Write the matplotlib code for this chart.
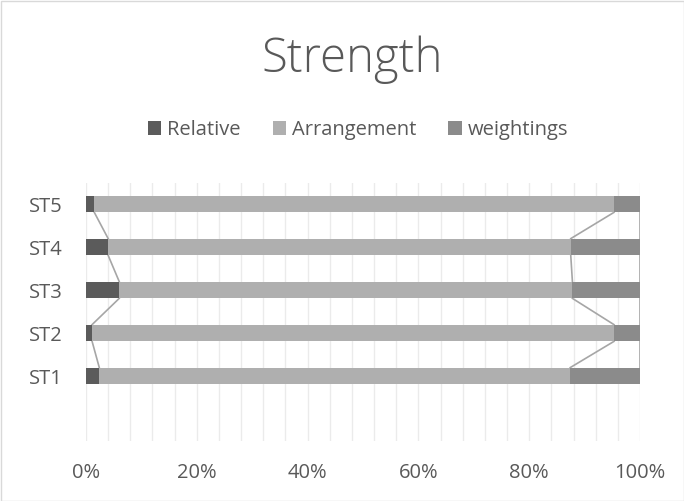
import matplotlib
matplotlib.use("Agg")
import matplotlib.pyplot as plt
from matplotlib.ticker import MultipleLocator

categories = ["ST1", "ST2", "ST3", "ST4", "ST5"]
relative = [2.4, 1.1, 6.0, 4.0, 1.5]
arrangement = [85.0, 94.2, 81.8, 83.5, 93.8]
weightings = [12.6, 4.7, 12.2, 12.5, 4.7]
series_names = ["Relative", "Arrangement", "weightings"]
colors = ["#5b5b5b", "#afafaf", "#8b8b8b"]
xtick_labels = ["0%", "20%", "40%", "60%", "80%", "100%"]

plt.rcParams['font.family'] = ['Open Sans', 'DejaVu Sans']
fig = plt.figure(figsize=(6.84, 5.01), dpi=100)
W, H = 684, 501
ax = fig.add_axes([86 / W, 1 - 440.5 / H, (640 - 86) / W, (440.5 - 182.5) / H])

pos = list(range(len(categories)))
h = 0.39
data = [relative, arrangement, weightings]
left = [0.0] * len(categories)
for vals, name, c in zip(data, series_names, colors):
    ax.barh(pos, vals, left=left, height=h, color=c, label=name, zorder=3)
    left = [l + v for l, v in zip(left, vals)]

# series lines
cum = [0.0] * len(categories)
for vals in data:
    cum = [a + b for a, b in zip(cum, vals)]
    for i in range(len(categories) - 1):
        ax.plot([cum[i], cum[i + 1]], [pos[i] + h / 2, pos[i + 1] - h / 2],
                color="#a6a6a6", lw=1.2, zorder=2)

ax.set_xlim(0, 100)
ax.set_ylim(-1.5, 4.5)
ax.xaxis.set_minor_locator(MultipleLocator(4))
ax.set_xticks([0, 20, 40, 60, 80, 100])
ax.set_xticklabels(xtick_labels)
ax.set_yticks(pos)
ax.set_yticklabels(categories)
ax.grid(axis="x", which="both", color="#ebebeb", lw=1, zorder=0)
ax.tick_params(which="both", length=0, labelsize=14.5, colors="#595959")
ax.tick_params(axis="x", pad=16)
ax.tick_params(axis="y", pad=17)
for s in ax.spines.values():
    s.set_visible(False)

fig.text(352 / W, 1 - 60 / H, "Strength", ha="center", va="center", fontsize=34,
         color="#595959", fontweight="light")
handles, labels = ax.get_legend_handles_labels()
fig.legend(handles, labels, loc="center", bbox_to_anchor=(358 / W, 1 - 130 / H), ncol=3,
           frameon=False, fontsize=14.5, labelcolor="#595959", handlelength=0.65,
           handleheight=0.65, handletextpad=0.3, columnspacing=1.6)

border = plt.Rectangle((0.5 / W, 0.5 / H), 1 - 1 / W, 1 - 1 / H, transform=fig.transFigure,
                       fill=False, edgecolor="#d9d9d9", lw=1)
fig.patches.append(border)
fig.savefig("out.png", dpi=100)
